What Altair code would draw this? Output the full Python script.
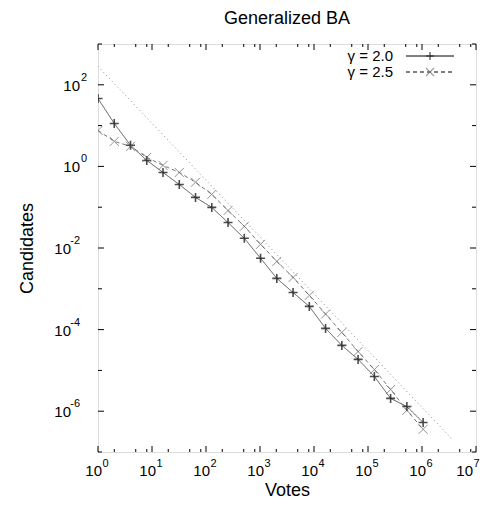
import altair as alt
import pandas as pd

# ---------------- data ----------------
votes = [1, 2, 4, 8, 16, 32, 64, 128, 256, 512, 1024, 2048, 4096, 8192,
         16384, 32768, 65536, 131072, 262144, 524288, 1048576]
cand_g20 = [46, 11.3, 3.3, 1.4, 0.71, 0.36, 0.174, 0.099, 0.042, 0.0173,
            0.0056, 0.0018, 8.1e-4, 3.7e-4, 1.07e-4, 4.1e-5, 1.86e-5,
            7.1e-6, 2.06e-6, 1.3e-6, 5.3e-7]
cand_g25 = [7.6, 4.1, 3.1, 1.66, 1.06, 0.71, 0.41, 0.206, 0.083, 0.034,
            0.0123, 0.0047, 0.0019, 6.9e-4, 2.4e-4, 8.5e-5, 2.9e-5,
            1.05e-5, 3.4e-6, 1.05e-6, 3.6e-7]
fit_votes = [1, 3.7e6]
fit_cand = [282, 2.0e-7]
series_names = ["γ = 2.0", "γ = 2.5"]

x_major = [1, 1e1, 1e2, 1e3, 1e4, 1e5, 1e6, 1e7]
x_exponents = ["0", "1", "2", "3", "4", "5", "6", "7"]
x_minor = [2, 5, 8, 20, 50, 80, 200, 500, 800, 2e3, 5e3, 8e3, 2e4, 5e4, 8e4,
           2e5, 5e5, 8e5, 2e6, 5e6, 8e6]
y_unlabeled = [1e-7, 1e-5, 1e-3, 1e-1, 1e1, 1e3]
y_pos_labeled = [1, 1e2]
y_pos_exponents = ["0", "2"]
y_neg_labeled = [1e-6, 1e-4, 1e-2]
y_neg_exponents = ["-6", "-4", "-2"]

# ---------------- tables ----------------
df = pd.DataFrame({
    "votes": votes + votes,
    "candidates": cand_g20 + cand_g25,
    "series": [series_names[0]] * len(votes) + [series_names[1]] * len(votes),
})
fit_df = pd.DataFrame({"votes": fit_votes, "candidates": fit_cand})
xmaj_df = pd.DataFrame({"votes": x_major, "exp": x_exponents})
xlab_main_df = xmaj_df.iloc[:-1]
xlab_last_df = xmaj_df.iloc[-1:]
xmin_df = pd.DataFrame({"votes": x_minor})
yunl_df = pd.DataFrame({"candidates": y_unlabeled})
ypos_df = pd.DataFrame({"candidates": y_pos_labeled, "exp": y_pos_exponents})
yneg_df = pd.DataFrame({"candidates": y_neg_labeled, "exp": y_neg_exponents})
ylab_df = pd.DataFrame({"candidates": y_pos_labeled + y_neg_labeled})

W, H = 378, 408
FONT = "Liberation Sans"
PLUS = "M-1,0L1,0M0,-1L0,1"
CROSS = "M-1,-1L1,1M-1,1L1,-1"

xscale = alt.Scale(type="log", domain=[1, 1e7], nice=False)
yscale = alt.Scale(type="log", domain=[1e-7, 1e3], nice=False)

series_scale_color = alt.Scale(domain=series_names, range=["#555555", "#777777"])
dash_scale = alt.Scale(domain=series_names, range=[[1, 0], [4, 3]])

lines = alt.Chart(df).mark_line(strokeWidth=1, clip=True).encode(
    x=alt.X("votes:Q", scale=xscale,
            axis=alt.Axis(labels=False, ticks=False, domain=False, grid=False,
                          title="Votes", titleFont=FONT, titleFontSize=18,
                          titleFontWeight="normal", titlePadding=29,
                          titleColor="black")),
    y=alt.Y("candidates:Q", scale=yscale,
            axis=alt.Axis(labels=False, ticks=False, domain=False, grid=False,
                          title="Candidates", titleFont=FONT, titleFontSize=18,
                          titleFontWeight="normal", titlePadding=62,
                          titleColor="black")),
    color=alt.Color("series:N", scale=series_scale_color, legend=None),
    strokeDash=alt.StrokeDash("series:N", scale=dash_scale, legend=None),
    detail="series:N",
)

points = alt.Chart(df).mark_point(filled=False, size=81, clip=True).encode(
    x=alt.X("votes:Q", scale=xscale),
    y=alt.Y("candidates:Q", scale=yscale),
    shape=alt.Shape("series:N", scale=alt.Scale(domain=series_names, range=[PLUS, CROSS]), legend=None),
    stroke=alt.Stroke("series:N", scale=alt.Scale(domain=series_names, range=["#000000", "#666666"]), legend=None),
    strokeWidth=alt.StrokeWidth("series:N", scale=alt.Scale(domain=series_names, range=[1.6, 1.0]), legend=None),
)

fit = alt.Chart(fit_df).mark_line(color="#888888", strokeWidth=1, strokeDash=[1, 3], clip=True).encode(
    x=alt.X("votes:Q", scale=xscale),
    y=alt.Y("candidates:Q", scale=yscale),
)

# inward ticks on all four sides (gnuplot style)
def xticks(data, length):
    bot = alt.Chart(data).mark_rule(color="black", strokeWidth=1).encode(
        x=alt.X("votes:Q", scale=xscale), y=alt.value(H), y2=alt.value(H - length))
    top = alt.Chart(data).mark_rule(color="black", strokeWidth=1).encode(
        x=alt.X("votes:Q", scale=xscale), y=alt.value(0), y2=alt.value(length))
    return [bot, top]

def yticks(data, length):
    left = alt.Chart(data).mark_rule(color="black", strokeWidth=1).encode(
        y=alt.Y("candidates:Q", scale=yscale), x=alt.value(0), x2=alt.value(length))
    right = alt.Chart(data).mark_rule(color="black", strokeWidth=1).encode(
        y=alt.Y("candidates:Q", scale=yscale), x=alt.value(W), x2=alt.value(W - length))
    return [left, right]

tick_layers = (xticks(xmaj_df[["votes"]], 6) + xticks(xmin_df, 3)
               + yticks(ylab_df, 6) + yticks(yunl_df, 4))

# tick labels "10" with a raised exponent, as in the reference
BASE_FS, EXP_FS = 15, 11

def xlabels(data, shift):
    base = alt.Chart(data).mark_text(
        text="10", align="right", baseline="middle", font=FONT, fontSize=BASE_FS,
        color="black", dx=4 + shift).encode(x=alt.X("votes:Q", scale=xscale),
                                            y=alt.value(H + 19))
    exp = alt.Chart(data).mark_text(
        align="left", baseline="middle", font=FONT, fontSize=EXP_FS,
        color="black", dx=4.5 + shift).encode(x=alt.X("votes:Q", scale=xscale),
                                              y=alt.value(H + 12), text="exp:N")
    return [base, exp]

def ylabels(data, base_right, exp_right):
    base = alt.Chart(data).mark_text(
        text="10", align="right", baseline="middle", font=FONT, fontSize=BASE_FS,
        color="black", dy=1).encode(y=alt.Y("candidates:Q", scale=yscale),
                                    x=alt.value(base_right))
    exp = alt.Chart(data).mark_text(
        align="right", baseline="middle", font=FONT, fontSize=EXP_FS,
        color="black", dy=-7).encode(y=alt.Y("candidates:Q", scale=yscale),
                                     x=alt.value(exp_right), text="exp:N")
    return [base, exp]

label_layers = (xlabels(xlab_main_df, 0) + xlabels(xlab_last_df, -7)
                + ylabels(ypos_df, -18, -11) + ylabels(yneg_df, -27, -18))

# manual gnuplot-style legend (text, then sample line with marker)
legend_layers = []
row_y = [12, 28]
for i, name in enumerate(series_names):
    ldf = pd.DataFrame({"label": [name]})
    legend_layers.append(
        alt.Chart(ldf).mark_text(align="right", baseline="middle", font=FONT,
                                 fontSize=15, color="black").encode(
            text="label:N", x=alt.value(295), y=alt.value(row_y[i])))
    legend_layers.append(
        alt.Chart(ldf).mark_rule(color="black", strokeWidth=1,
                                 strokeDash=[1, 0] if i == 0 else [4, 3]).encode(
            x=alt.value(308), x2=alt.value(356), y=alt.value(row_y[i])))
    legend_layers.append(
        alt.Chart(ldf).mark_point(filled=False, size=64,
                                  shape=PLUS if i == 0 else CROSS,
                                  stroke="black" if i == 0 else "#777777",
                                  strokeWidth=1.2).encode(
            x=alt.value(332), y=alt.value(row_y[i])))

chart = alt.layer(fit, lines, points, *tick_layers, *label_layers, *legend_layers).properties(
    width=W, height=H,
    title=alt.Title("Generalized BA", font=FONT, fontSize=18, fontWeight="normal",
                    color="black", anchor="middle", offset=16),
    autosize=alt.AutoSizeParams(type="none"),
    padding={"left": 90, "top": 36, "right": 5, "bottom": 48},
).configure_view(stroke="black", strokeWidth=1.5).configure(background="white")

chart.save("out.html", embed_options={"renderer": "svg", "actions": False})
